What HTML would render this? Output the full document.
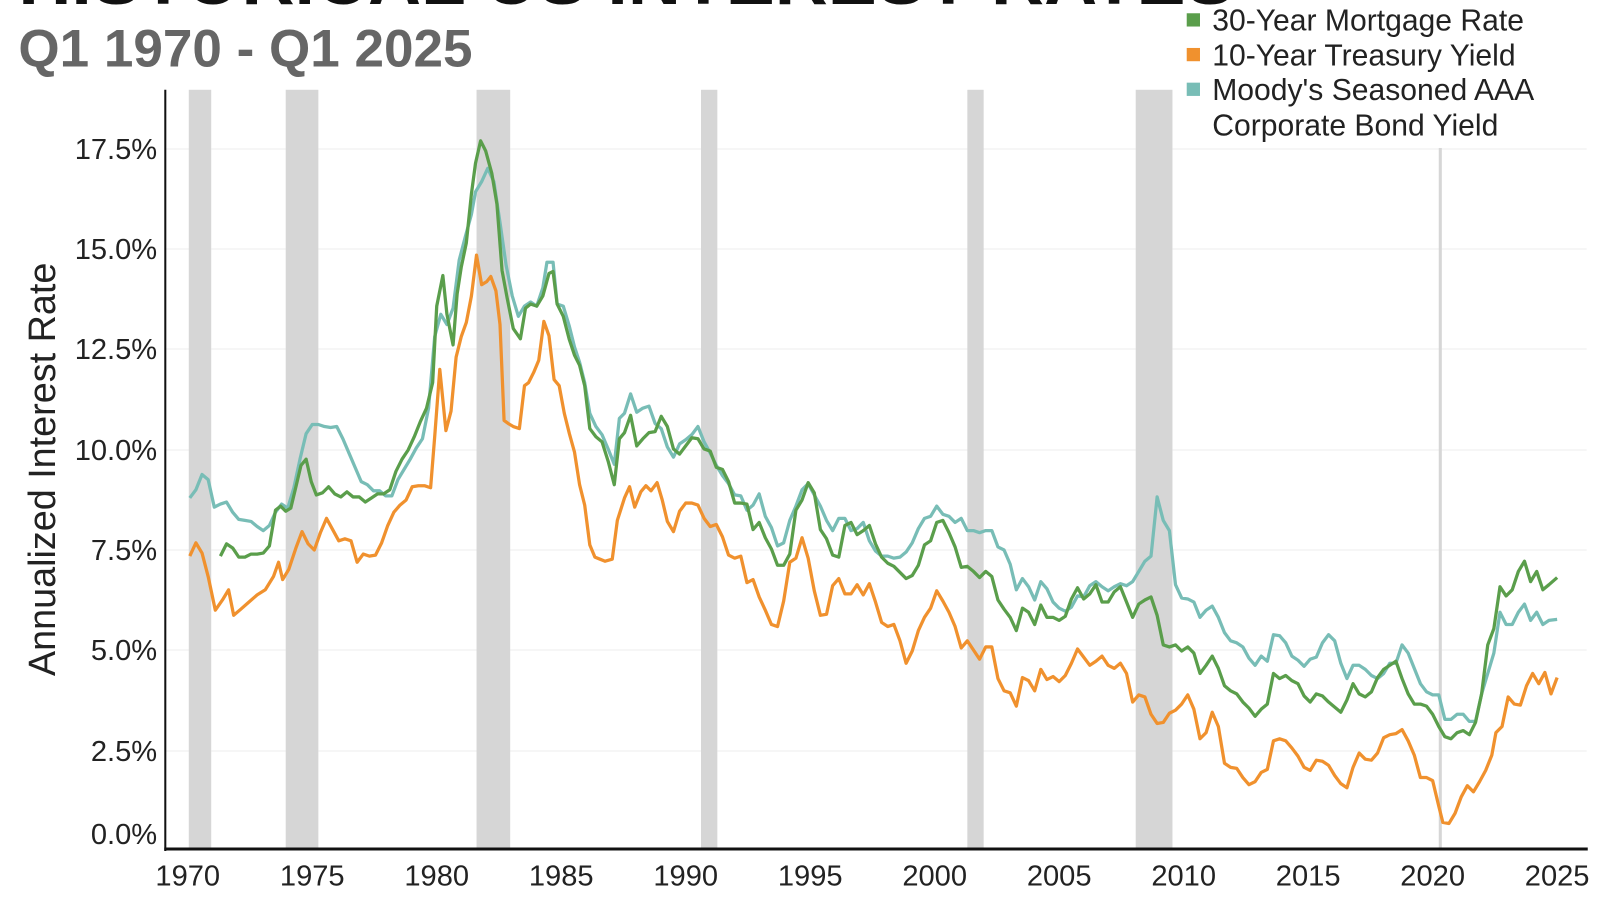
<!DOCTYPE html>
<html><head><meta charset="utf-8"><style>
html,body{margin:0;padding:0;background:#fff;}
svg{display:block;font-family:"Liberation Sans",Arial,sans-serif;}
</style></head><body>
<svg width="1600" height="900" viewBox="0 0 1600 900" xmlns="http://www.w3.org/2000/svg">
<rect width="1600" height="900" fill="#fff"/>
<g transform="scale(1.0204)">
<text x="18" y="4" font-size="72" font-weight="bold" fill="#111">HISTORICAL US INTEREST RATES</text>
<text x="18" y="65" font-size="52" font-weight="bold" fill="#666">Q1 1970 - Q1 2025</text>
<g stroke="#eeeeee" stroke-width="1">
<line x1="162" x2="1555" y1="146" y2="146"/><line x1="162" x2="1555" y1="244" y2="244"/>
<line x1="162" x2="1555" y1="342" y2="342"/><line x1="162" x2="1555" y1="441" y2="441"/>
<line x1="162" x2="1555" y1="539" y2="539"/><line x1="162" x2="1555" y1="637" y2="637"/>
<line x1="162" x2="1555" y1="736" y2="736"/>
</g>
<g fill="#d6d6d6">
<rect x="185" y="88" width="22" height="744"/><rect x="280" y="88" width="32" height="744"/>
<rect x="467" y="88" width="33" height="744"/><rect x="687" y="88" width="16" height="744"/>
<rect x="948" y="88" width="16" height="744"/><rect x="1113" y="88" width="36" height="744"/>
<rect x="1410" y="145" width="3" height="687"/>
</g>
<g fill="none" stroke-width="3.2" stroke-linejoin="round">
<polyline stroke="#78bdb6" points="186,488 192,480 198,465 204,470 210,497 216,494 222,492 228,502 234,509 240,510 246,511 252,516 258,520 264,515 270,502 276,494 282,498 288,478 294,450 300,425 306,416 312,416 318,418 324,419 330,418 336,430 342,444 348,458 354,472 360,475 366,481 372,481 378,486 384,486 390,470 396,460 402,450 408,439 414,430 420,400 426,330 432,308 438,318 444,302 450,255 456,232 462,210 466,188 472,178 478,165 484,178 490,218 496,260 502,290 508,310 514,300 520,296 526,300 532,282 536,257 542,257 546,298 552,300 558,320 563,340 568,355 573,375 578,405 584,418 590,426 596,440 602,455 607,410 612,405 618,386 624,404 630,400 636,398 642,415 648,420 654,438 660,448 666,435 672,431 678,426 684,418 690,433 696,444 702,456 708,466 714,474 720,485 726,486 732,500 738,495 744,484 750,506 756,517 762,535 768,532 774,510 780,496 786,480 792,474 798,485 804,496 810,510 816,520 822,508 828,508 834,520 840,518 846,512 852,530 858,540 864,545 870,545 876,547 882,546 888,541 894,532 900,518 906,508 912,506 918,496 924,504 930,506 936,512 942,508 948,520 954,520 960,522 966,520 972,520 978,536 984,539 990,553 996,578 1002,567 1008,575 1014,588 1020,570 1026,577 1032,590 1038,596 1044,599 1050,595 1056,584 1062,585 1068,574 1074,570 1080,575 1086,579 1092,575 1098,572 1104,574 1110,570 1116,560 1122,550 1128,545 1134,487 1140,510 1146,520 1152,573 1158,586 1164,587 1170,590 1176,605 1182,598 1188,594 1194,605 1200,620 1206,628 1212,630 1218,634 1224,645 1230,652 1236,643 1242,648 1248,622 1254,623 1260,630 1266,643 1272,647 1278,653 1284,646 1290,644 1296,630 1302,622 1308,628 1314,650 1320,665 1326,652 1332,652 1338,656 1344,662 1350,665 1356,660 1362,650 1368,650 1374,632 1380,640 1386,655 1392,670 1398,678 1404,681 1410,681 1416,705 1422,705 1428,700 1434,700 1440,707 1446,707 1452,680 1458,660 1464,640 1470,600 1476,612 1482,612 1488,600 1494,592 1500,608 1506,600 1512,612 1518,608 1526,607"/>
<polyline stroke="#f0912e" points="186,545 192,532 198,542 204,565 211,598 218,588 224,578 229,603 236,597 244,590 252,583 260,578 268,565 273,551 277,568 283,558 290,537 296,521 302,533 308,539 314,522 320,508 326,519 332,530 338,528 344,530 350,551 356,543 362,545 368,544 374,532 380,515 386,502 392,495 398,490 404,477 410,476 416,476 422,478 426,428 431,362 437,422 442,403 447,350 452,330 457,316 462,290 467,250 472,279 477,276 481,271 486,285 490,318 494,412 498,415 503,418 509,420 514,378 518,375 523,365 528,353 533,315 538,329 543,372 548,378 553,405 558,425 563,443 568,475 573,495 578,534 583,546 588,548 593,550 600,548 605,510 612,488 617,477 622,497 628,482 633,476 638,481 644,473 649,490 654,511 660,521 666,501 672,493 678,493 684,495 690,508 696,516 702,514 708,526 714,544 720,547 726,545 732,571 738,568 744,585 750,598 756,612 762,614 768,589 774,551 780,547 786,527 792,547 798,579 804,603 810,602 816,574 822,567 828,582 834,582 840,573 846,583 852,572 858,590 864,610 870,614 876,612 882,628 888,650 894,638 900,618 906,605 912,596 918,579 924,589 930,600 936,614 942,635 948,628 954,637 960,646 966,634 972,634 978,665 984,677 990,679 996,692 1002,664 1008,667 1014,677 1020,656 1026,666 1032,663 1038,668 1044,662 1050,650 1056,636 1062,644 1068,652 1074,648 1080,643 1086,652 1092,655 1098,650 1104,660 1110,688 1116,681 1122,683 1128,700 1134,709 1140,708 1146,699 1152,696 1158,690 1164,681 1170,695 1176,724 1182,718 1188,698 1194,712 1200,748 1206,752 1212,753 1218,762 1224,769 1230,766 1236,757 1242,754 1248,726 1254,724 1260,726 1266,733 1272,741 1278,752 1284,755 1290,745 1296,746 1302,750 1308,760 1314,768 1320,772 1326,752 1332,738 1338,744 1344,745 1350,738 1356,723 1362,720 1368,719 1374,715 1380,726 1386,740 1392,762 1398,762 1404,765 1410,790 1414,806 1420,807 1426,797 1432,781 1438,770 1444,776 1450,766 1456,755 1462,740 1466,718 1472,712 1478,683 1484,690 1490,691 1496,672 1502,660 1508,670 1514,659 1520,680 1526,664"/>
<polyline stroke="#5a9e4b" points="216,545 222,533 228,537 234,546 240,546 246,543 252,543 258,542 264,535 270,500 275,496 280,501 285,498 290,477 295,456 300,450 305,472 310,485 316,483 322,477 328,484 334,487 340,482 346,487 352,487 358,492 364,488 370,484 376,484 382,480 388,462 394,450 400,441 406,428 412,413 418,400 424,375 428,300 434,270 438,308 444,338 448,288 452,262 457,238 462,190 466,160 471,138 476,148 482,170 487,200 492,265 497,292 503,322 510,332 515,302 520,298 526,300 532,290 538,268 542,266 546,298 552,310 558,333 563,348 568,358 573,378 578,420 584,428 590,433 596,452 602,475 607,430 612,424 618,407 624,437 630,430 636,424 642,423 648,408 654,418 660,440 666,445 672,437 678,429 684,430 690,440 696,442 702,458 708,460 714,472 720,493 726,493 732,494 738,519 744,512 750,527 756,538 762,554 768,554 774,543 780,500 786,490 792,473 798,483 804,519 810,528 816,544 822,546 828,515 834,512 840,524 846,520 852,515 858,533 864,546 870,552 876,555 882,561 888,567 894,564 900,554 906,534 912,530 918,512 924,510 930,522 936,536 942,556 948,555 954,560 960,566 966,560 972,565 978,588 984,597 990,605 996,618 1002,596 1008,600 1014,612 1020,593 1026,605 1032,605 1038,608 1044,604 1050,587 1056,576 1062,587 1068,582 1074,573 1080,590 1086,590 1092,580 1098,575 1104,590 1110,605 1116,592 1122,588 1128,585 1134,603 1140,632 1146,634 1152,632 1158,638 1164,634 1170,640 1176,660 1182,652 1188,643 1194,655 1200,672 1206,677 1212,680 1218,688 1224,694 1230,702 1236,695 1242,690 1248,660 1254,665 1260,662 1266,667 1272,670 1278,682 1284,688 1290,680 1296,682 1302,688 1308,693 1314,698 1320,686 1326,670 1332,680 1338,683 1344,678 1350,664 1356,656 1362,652 1368,648 1374,665 1380,680 1386,690 1392,690 1398,692 1404,700 1410,712 1416,722 1422,724 1428,718 1434,716 1440,720 1446,708 1452,680 1458,632 1464,616 1470,575 1476,584 1482,578 1488,560 1494,550 1500,570 1506,560 1512,578 1518,573 1526,566"/>
</g>
<line x1="162" y1="88" x2="162" y2="834" stroke="#111" stroke-width="2"/>
<line x1="161" y1="832" x2="1556" y2="832" stroke="#111" stroke-width="3"/>
<g font-size="28.5" fill="#222" text-anchor="end">
<text x="154" y="156">17.5%</text><text x="154" y="254">15.0%</text>
<text x="154" y="352">12.5%</text><text x="154" y="451">10.0%</text>
<text x="154" y="549">7.5%</text><text x="154" y="647">5.0%</text>
<text x="154" y="746">2.5%</text><text x="154" y="827">0.0%</text>
</g>
<g font-size="28.5" fill="#222" text-anchor="middle">
<text x="184" y="868">1970</text><text x="306" y="868">1975</text><text x="428" y="868">1980</text>
<text x="550" y="868">1985</text><text x="672" y="868">1990</text><text x="794" y="868">1995</text>
<text x="916" y="868">2000</text><text x="1038" y="868">2005</text><text x="1160" y="868">2010</text>
<text x="1282" y="868">2015</text><text x="1404" y="868">2020</text><text x="1526" y="868">2025</text>
</g>
<text transform="translate(54,460) rotate(-90)" font-size="37" fill="#222" text-anchor="middle">Annualized Interest Rate</text>
<g font-size="29.5" fill="#222">
<rect x="1163" y="13" width="13" height="13" fill="#5a9e4b"/><text x="1188" y="30">30-Year Mortgage Rate</text>
<rect x="1163" y="47" width="13" height="13" fill="#f0912e"/><text x="1188" y="64">10-Year Treasury Yield</text>
<rect x="1163" y="81" width="13" height="13" fill="#78bdb6"/><text x="1188" y="98">Moody's Seasoned AAA</text>
<text x="1188" y="133">Corporate Bond Yield</text>
</g>
</g>
</svg>
</body></html>
